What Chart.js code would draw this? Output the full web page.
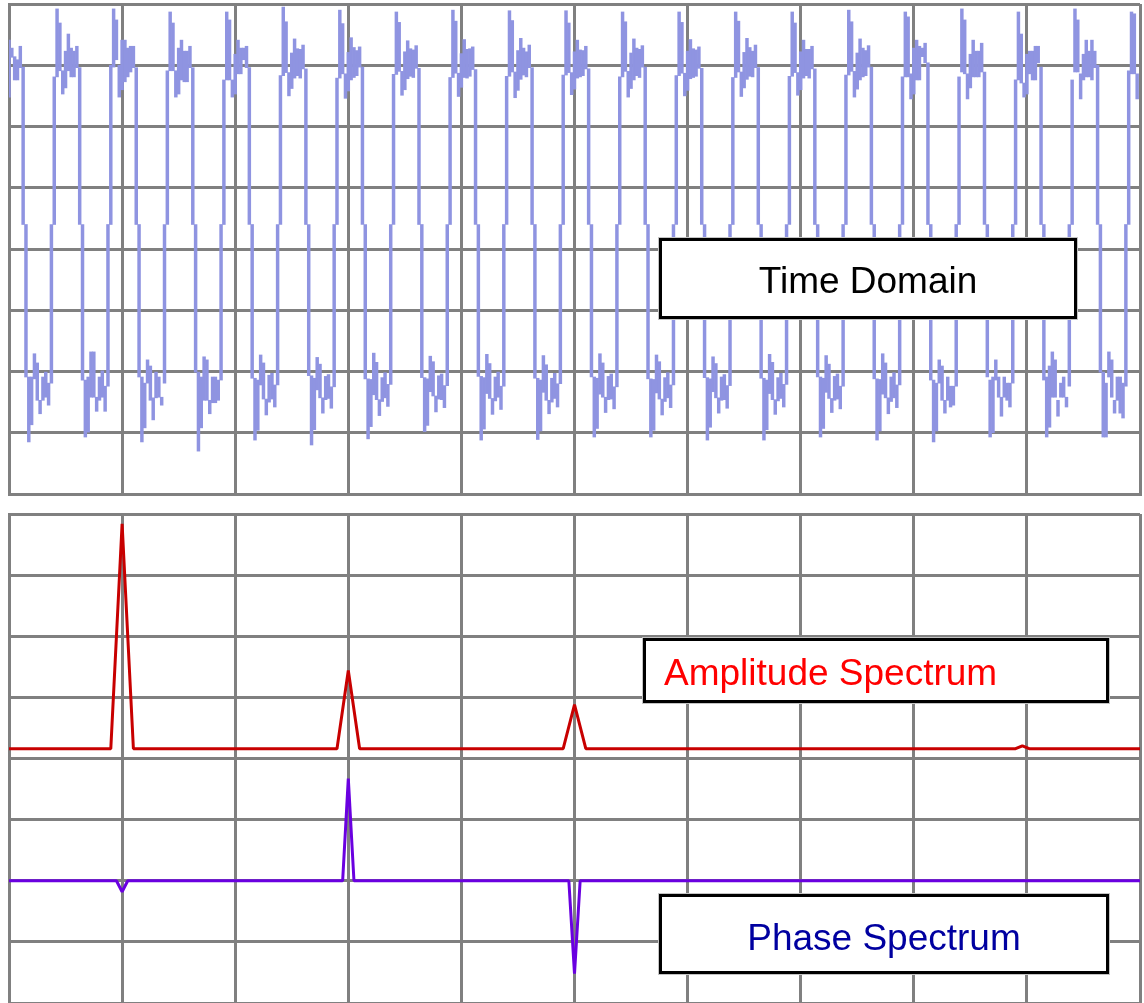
<!DOCTYPE html>
<html>
<head>
<meta charset="utf-8">
<script src="https://cdn.jsdelivr.net/npm/chart.js@4.4.1/dist/chart.umd.min.js"></script>
<style>
  html, body { margin: 0; padding: 0; background: #fff; overflow: hidden; width: 1144px; height: 1003px; }
  canvas { position: absolute; left: 0; }
  #timeCanvas { top: 0; }
  #specCanvas { top: 500px; }
  .label {
    position: absolute; box-sizing: border-box; border: 3px solid #000; background: #fff;
    box-shadow: 0 0 0 1px #c4c4c4; font-family: "Liberation Sans", Arial, sans-serif;
    font-size: 37px; display: flex; align-items: center; white-space: nowrap;
  }
  .label span { position: relative; }
</style>
</head>
<body>
<canvas id="timeCanvas" width="1144" height="500"></canvas>
<canvas id="specCanvas" width="1144" height="520"></canvas>
<div class="label" style="left:659px;top:238px;width:418px;height:81px;justify-content:center;color:#000;"><span style="top:2px">Time Domain</span></div>
<div class="label" style="left:643px;top:638px;width:466px;height:65px;padding-left:18px;color:#ff0000;"><span style="top:2px">Amplitude Spectrum</span></div>
<div class="label" style="left:659px;top:894px;width:450px;height:80px;justify-content:center;color:#0000a0;"><span style="top:4px">Phase Spectrum</span></div>
<script>
// Sampled waveform, 0.5 ms per sample, shown as min/max per sample column (mV)
const SAMPLE_MS = 0.5;
const traceMin = [
  248, 313, 276, 276, 296, 40, -209, -315, -287, -212, -247, -269, -247, -242, -255,
  -219, 40, 281, 291, 253, 263, 291, 281, 281, 296, 40, -214, -307, -299, -242, -242, -265, -247, -242, -265,
  -224, 40, 297, 309, 248, 260, 273, 281, 289, 296, 40, -209, -315, -292, -219, -247, -279, -243, -242, -255,
  -219, 40, 291, 291, 248, 253, 276, 273, 273, 296, 40, -201, -330, -292, -247, -247, -269, -251, -251, -247,
  -214, 40, 276, 276, 248, 253, 286, 286, 309, 296, 40, -211, -312, -296, -222, -245, -271, -250, -245, -258,
  -222, 40, 283, 288, 250, 262, 279, 283, 279, 294, 40, -207, -320, -295, -230, -243, -268, -246, -244, -260,
  -225, 40, 279, 286, 246, 258, 276, 280, 283, 297, 40, -212, -310, -290, -238, -246, -272, -249, -243, -257,
  -221, 40, 285, 290, 251, 260, 278, 282, 280, 295, 40, -210, -298, -288, -233, -240, -266, -245, -246, -259,
  -223, 40, 280, 287, 249, 264, 280, 279, 282, 293, 40, -208, -312, -294, -236, -244, -270, -248, -242, -262,
  -224, 40, 282, 289, 247, 259, 277, 284, 281, 296, 40, -211, -311, -297, -234, -247, -269, -250, -244, -258,
  -220, 40, 284, 288, 252, 261, 279, 281, 283, 294, 40, -209, -307, -293, -237, -242, -267, -246, -245, -261,
  -225, 40, 281, 290, 248, 262, 276, 283, 280, 297, 40, -212, -307, -296, -235, -245, -271, -249, -243, -259,
  -222, 40, 283, 287, 250, 259, 278, 280, 282, 295, 40, -210, -312, -291, -233, -243, -268, -247, -246, -260,
  -223, 40, 280, 289, 249, 263, 277, 282, 281, 296, 40, -211, -312, -295, -236, -246, -270, -248, -244, -258,
  -221, 40, 282, 288, 251, 260, 279, 283, 279, 294, 40, -209, -307, -293, -234, -244, -267, -247, -245, -261,
  -224, 40, 284, 290, 248, 261, 276, 281, 283, 297, 40, -212, -312, -297, -237, -243, -269, -249, -243, -259,
  -222, 40, 281, 281, 245, 253, 276, 276, 314, 304, 40, -214, -315, -297, -219, -247, -268, -247, -258, -255,
  -224, 40, 289, 286, 245, 263, 281, 281, 281, 289, 40, -209, -307, -300, -214, -242, -273, -242, -247, -258,
  -219, 40, 276, 271, 248, 253, 286, 276, 276, 304, 40, -214, -307, -291, -242, -242, -273, -242, -242, -258,
  -224, 40, 289, 289, 245, 276, 281, 281, 276, 296, 40, -201, -307, -307, -209, -242, -268, -247, -268, -276,
  -224, 40, 286, 286, 245
];
const traceMax = [
  341, 328, 314, 309, 331, 297, 40, -209, -209, -171, -186, -247, -209, -201, -219,
  40, 281, 392, 369, 291, 323, 351, 328, 323, 331, 296, 40, -214, -209, -168, -168, -242, -209, -199, -224,
  40, 300, 392, 374, 300, 341, 341, 328, 331, 331, 296, 40, -209, -219, -181, -191, -243, -201, -209, -242,
  40, 291, 387, 369, 291, 328, 341, 323, 323, 331, 296, 40, -201, -209, -176, -181, -247, -209, -209, -214,
  40, 276, 387, 374, 276, 318, 341, 328, 328, 331, 296, 40, -211, -214, -173, -186, -245, -206, -203, -222,
  40, 283, 395, 371, 288, 320, 343, 327, 326, 333, 294, 40, -207, -211, -177, -188, -243, -208, -205, -225,
  40, 279, 390, 368, 286, 321, 345, 329, 324, 330, 297, 40, -212, -213, -170, -185, -246, -210, -202, -221,
  40, 285, 387, 370, 290, 322, 340, 327, 325, 332, 295, 40, -210, -212, -175, -184, -240, -207, -204, -223,
  40, 280, 390, 372, 287, 319, 342, 326, 327, 330, 293, 40, -208, -210, -172, -187, -244, -209, -201, -224,
  40, 282, 389, 373, 289, 324, 344, 328, 322, 333, 296, 40, -211, -214, -174, -189, -247, -211, -203, -220,
  40, 284, 389, 369, 288, 322, 341, 325, 324, 331, 294, 40, -209, -211, -171, -186, -242, -208, -204, -225,
  40, 281, 387, 371, 290, 320, 343, 328, 326, 332, 297, 40, -212, -213, -173, -184, -245, -210, -202, -222,
  40, 283, 387, 370, 287, 323, 342, 327, 325, 330, 295, 40, -210, -212, -176, -187, -243, -209, -205, -223,
  40, 280, 387, 372, 289, 321, 344, 329, 323, 333, 296, 40, -211, -214, -172, -185, -246, -210, -203, -221,
  40, 282, 387, 369, 288, 322, 341, 326, 326, 331, 294, 40, -209, -211, -174, -188, -244, -208, -204, -224,
  40, 284, 390, 371, 290, 320, 343, 328, 324, 332, 297, 40, -212, -213, -171, -186, -243, -209, -202, -222,
  40, 281, 387, 379, 286, 328, 341, 331, 328, 336, 304, 40, -214, -219, -181, -191, -247, -209, -224, -224,
  40, 281, 392, 374, 286, 318, 341, 323, 323, 336, 289, 40, -214, -209, -181, -209, -242, -209, -219, -219,
  40, 276, 387, 351, 271, 318, 323, 323, 331, 331, 297, 40, -209, -191, -168, -181, -247, -219, -209, -242,
  40, 276, 392, 374, 286, 318, 341, 323, 341, 323, 300, 40, -201, -219, -168, -181, -247, -209, -209, -219,
  40, 291, 387, 384, 286
];

// Spectrum: frequency (Hz) and level
const ampFreq  = [0, 90, 100, 110, 290, 300, 310, 490, 500, 510, 890, 896, 902, 1000];
const ampLevel = [0,  0, 230,   0,   0,  80,   0,   0,  45,   0,   0,   3,   0,    0];
const phaseFreq  = [0, 95, 100, 105, 295, 300, 305, 495, 500, 505, 1000];
const phaseLevel = [0,  0, -0.18, 0,   0, 1.67,  0,   0, -1.52, 0,    0];

const GRID = { color: '#808080', lineWidth: 3, drawTicks: false, offset: false };
const EDGE = { display: true, color: '#808080', width: 3 };
const common = {
  responsive: false, animation: false, devicePixelRatio: 1,
  plugins: { legend: { display: false }, tooltip: { enabled: false } }
};

new Chart(document.getElementById('timeCanvas'), {
  type: 'bar',
  data: {
    datasets: [{
      data: traceMin.map((lo, i) => ({ x: i * SAMPLE_MS, y: [Math.min(lo, traceMax[i]), Math.max(lo, traceMax[i])] })),
      backgroundColor: '#8f94e1',
      borderWidth: 0,
      barPercentage: 1,
      categoryPercentage: 1
    }]
  },
  options: Object.assign({}, common, {
    layout: { padding: { left: 9, right: 4, top: 4, bottom: 6 } },
    scales: {
      x: { type: 'linear', min: 0, max: 200, offset: false, ticks: { display: false, stepSize: 20 }, grid: GRID, border: EDGE },
      y: { type: 'linear', min: -400, max: 400, ticks: { display: false, stepSize: 100 }, grid: GRID, border: EDGE }
    }
  })
});

new Chart(document.getElementById('specCanvas'), {
  type: 'line',
  data: {
    datasets: [
      {
        data: ampFreq.map((f, i) => ({ x: f, y: ampLevel[i] })),
        yAxisID: 'amp', borderColor: '#c80000', borderWidth: 3, pointRadius: 0,
        tension: 0, borderJoinStyle: 'bevel'
      },
      {
        data: phaseFreq.map((f, i) => ({ x: f, y: phaseLevel[i] })),
        yAxisID: 'y', borderColor: '#6a00e0', borderWidth: 3, pointRadius: 0,
        tension: 0, borderJoinStyle: 'bevel'
      }
    ]
  },
  options: Object.assign({}, common, {
    layout: { padding: { left: 9, right: 4, top: 14, bottom: 17 } },
    scales: {
      x: { type: 'linear', min: 0, max: 1000, ticks: { display: false, stepSize: 100 }, grid: GRID, border: EDGE },
      y: { type: 'linear', min: -2, max: 6, ticks: { display: false, stepSize: 1 }, grid: GRID, border: EDGE },
      amp: { type: 'linear', display: false, min: -260, max: 240 }
    }
  })
});
</script>
</body>
</html>
